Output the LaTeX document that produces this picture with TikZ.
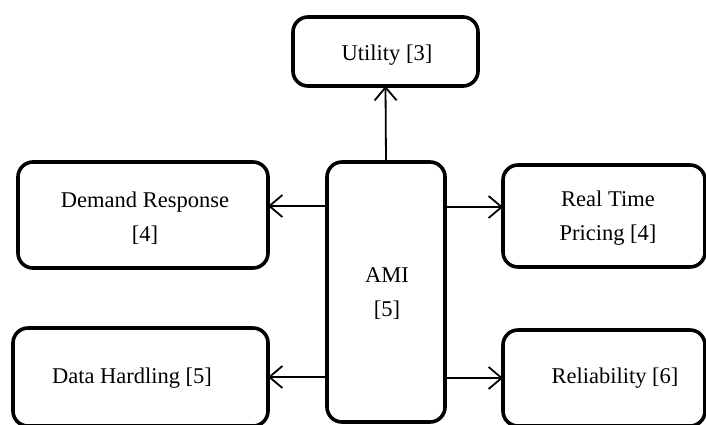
\documentclass[tikz,border=0pt]{standalone}
\usepackage{fontspec}
\setmainfont{Liberation Serif}
\usetikzlibrary{arrows.meta}
\begin{document}
\begin{tikzpicture}[x=1pt,y=-1pt,
  box/.style={draw=black,line width=3.6pt,rounded corners=15pt,rectangle,inner sep=0pt,outer sep=0pt,fill=white},
  lbl/.style={font=\fontsize{22.5}{34}\selectfont,align=center,inner sep=0pt},
  arr/.style={line width=1.8pt,-{Straight Barb[length=13pt,width=22pt,line width=1.8pt]}}]
\useasboundingbox[fill=white] (0,0) rectangle (706,424);
\node[box,minimum width=185pt,minimum height=69pt] (util) at (385.5,51.5) {};
\node[lbl] (utilt) at (387,55) {Utility [3]};
\node[box,minimum width=118pt,minimum height=260pt] (ami) at (386,292) {};
\node[lbl] (amit) at (387,294) {AMI\\\relax[5]};
\node[box,minimum width=250pt,minimum height=106pt] (dr) at (143,215) {};
\node[lbl] (drt) at (145,218) {Demand Response\\\relax[4]};
\node[box,minimum width=202pt,minimum height=102pt] (rtp) at (604,216) {};
\node[lbl] (rtpt) at (608,218) {Real Time\\Pricing [4]};
\node[box,minimum width=255pt,minimum height=98pt] (dh) at (140.5,377) {};
\node[lbl] (dht) at (132,378) {Data Hardling [5]};
\node[box,minimum width=202pt,minimum height=96pt] (rel) at (604,378) {};
\node[lbl] (relt) at (615,378) {Reliability [6]};
\draw[arr] (ami.north) -- (util.south);
\draw[arr] ([yshift=9pt]ami.west |- dr.east) -- ([yshift=9pt]dr.east);
\draw[arr] ([yshift=9pt]ami.east |- rtp.west) -- ([yshift=9pt]rtp.west);
\draw[arr] (ami.west |- dh.east) -- (dh.east);
\draw[arr] (ami.east |- rel.west) -- (rel.west);
\end{tikzpicture}
\end{document}
